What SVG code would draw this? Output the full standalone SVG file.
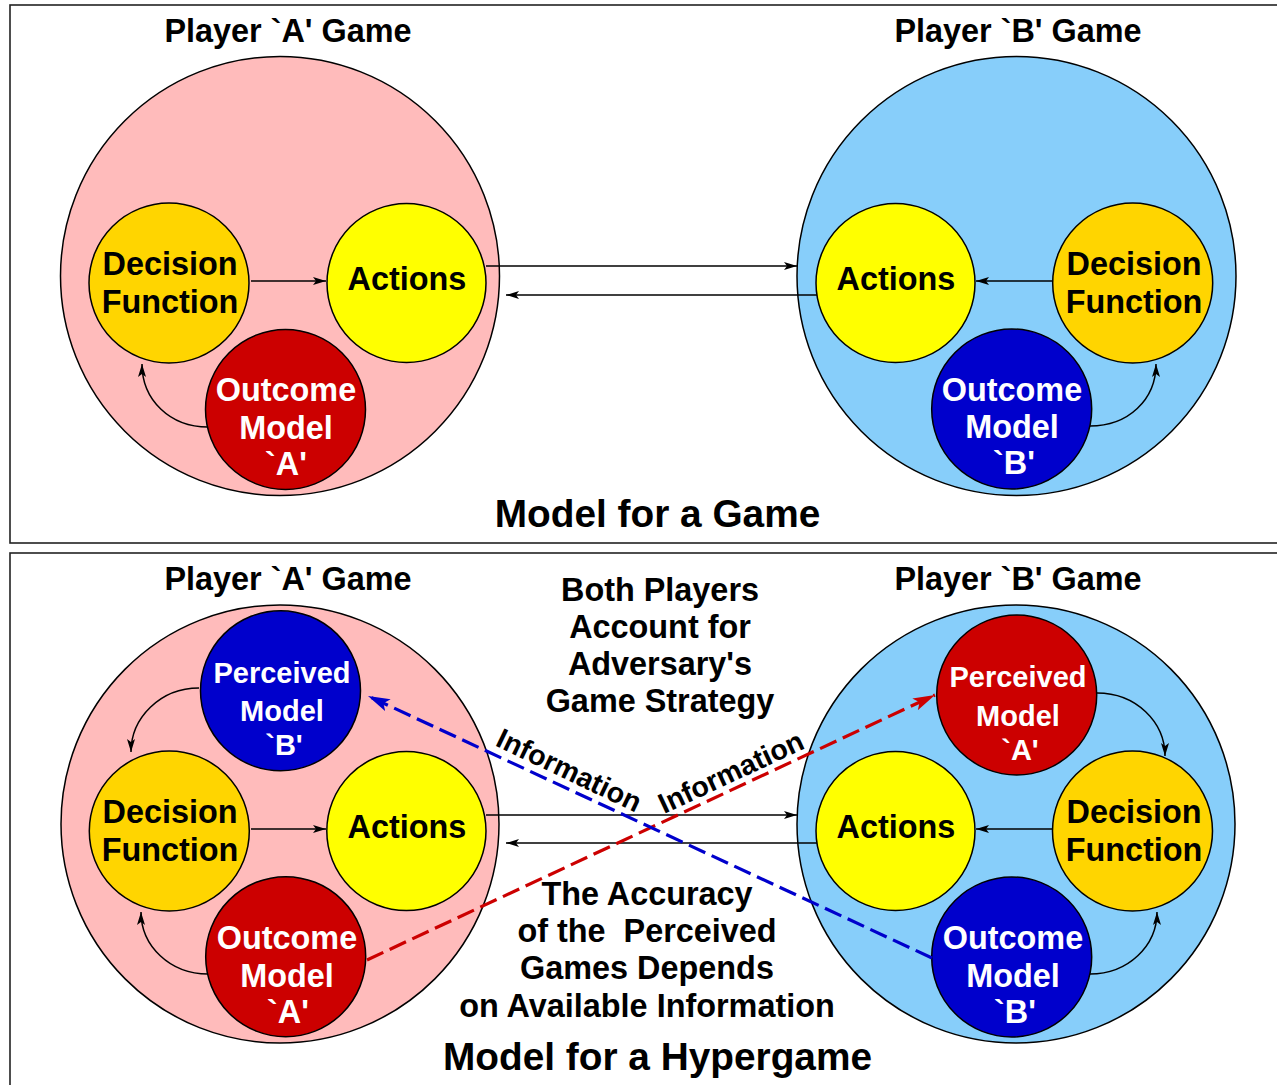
<svg xmlns="http://www.w3.org/2000/svg" width="1277" height="1085" viewBox="0 0 1277 1085">
<style>
text{font-family:"Liberation Sans",Arial,sans-serif;font-weight:bold;text-anchor:middle}
.t{font-size:32.4px;fill:#000}
.w{font-size:32.4px;fill:#fff}
.p{font-size:29px;fill:#fff}
.h{font-size:38.8px;fill:#000}
.frame{fill:#fff;stroke:#222;stroke-width:1.6}
.ring{stroke:#000;stroke-width:1.5}
.pink{fill:#FFBBBB}
.sky{fill:#87CEFA}
.gold{fill:#FFD500}
.yel{fill:#FFFF00}
.red{fill:#CC0000}
.blu{fill:#0000CC}
.c{fill:none;stroke:#000;stroke-width:1.5}
.dr{fill:none;stroke:#CC0000;stroke-width:3.2;stroke-dasharray:18 7}
.db{fill:none;stroke:#0000CC;stroke-width:3.2;stroke-dasharray:18 7}
</style>
<defs>
<marker id="ah" markerUnits="userSpaceOnUse" markerWidth="14" markerHeight="10" refX="13" refY="4" orient="auto"><path d="M0,0 L13,4 L0,8 L3,4 z" fill="#000"/></marker>
<marker id="ar" markerUnits="userSpaceOnUse" markerWidth="24" markerHeight="14" refX="22" refY="6.5" orient="auto"><path d="M0,0 L22,6.5 L0,13 L5,6.5 z" fill="#CC0000"/></marker>
<marker id="ab" markerUnits="userSpaceOnUse" markerWidth="24" markerHeight="14" refX="22" refY="6.5" orient="auto"><path d="M0,0 L22,6.5 L0,13 L5,6.5 z" fill="#0000CC"/></marker>
</defs>

<rect class="frame" x="10" y="5" width="1275" height="538"/>
<rect class="frame" x="10" y="553" width="1275" height="545"/>

<!-- Top panel: Model for a Game -->
<g id="gameA"><circle class="ring pink" cx="280" cy="276" r="219.5"/><text class="t" x="288" y="42">Player `A' Game</text></g>
<g id="gameB"><circle class="ring sky" cx="1016.5" cy="276" r="219.5"/><text class="t" x="1018" y="42">Player `B' Game</text></g>

<g id="decisionA"><circle class="ring gold" cx="169" cy="283" r="80"/><text class="t" x="170" y="275">Decision</text><text class="t" x="170" y="313">Function</text></g>
<g id="actionsA"><circle class="ring yel" cx="406.5" cy="283" r="79.5"/><text class="t" x="407" y="290">Actions</text></g>
<g id="outcomeA"><circle class="ring red" cx="285.5" cy="409.5" r="80"/><text class="w" x="286" y="401">Outcome</text><text class="w" x="286" y="439">Model</text><text class="w" x="286" y="475">`A'</text></g>

<g id="actionsB"><circle class="ring yel" cx="895.5" cy="283" r="79.5"/><text class="t" x="896" y="290">Actions</text></g>
<g id="decisionB"><circle class="ring gold" cx="1132.7" cy="283" r="80"/><text class="t" x="1134" y="275">Decision</text><text class="t" x="1134" y="313">Function</text></g>
<g id="outcomeB"><circle class="ring blu" cx="1011.7" cy="409" r="80"/><text class="w" x="1012" y="401">Outcome</text><text class="w" x="1012" y="438">Model</text><text class="w" x="1014" y="474">`B'</text></g>

<text class="h" x="657.5" y="527">Model for a Game</text>

<!-- Bottom panel: Model for a Hypergame -->
<g id="hgameA"><circle class="ring pink" cx="280" cy="824" r="219"/><text class="t" x="288" y="590">Player `A' Game</text></g>
<g id="hgameB"><circle class="ring sky" cx="1016" cy="824" r="219"/><text class="t" x="1018" y="590">Player `B' Game</text></g>

<g id="perceivedB"><circle class="ring blu" cx="280.5" cy="690.7" r="80"/><text class="p" x="282" y="683">Perceived</text><text class="p" x="282" y="721">Model</text><text class="p" x="284" y="755">`B'</text></g>
<g id="hdecisionA"><circle class="ring gold" cx="169.3" cy="831" r="80"/><text class="t" x="170" y="823">Decision</text><text class="t" x="170" y="861">Function</text></g>
<g id="hactionsA"><circle class="ring yel" cx="406.4" cy="831" r="79.6"/><text class="t" x="407" y="838">Actions</text></g>
<g id="houtcomeA"><circle class="ring red" cx="285.7" cy="956.7" r="80"/><text class="w" x="287" y="949">Outcome</text><text class="w" x="287" y="987">Model</text><text class="w" x="288" y="1023">`A'</text></g>

<g id="perceivedA"><circle class="ring red" cx="1016.7" cy="695" r="80"/><text class="p" x="1018" y="687">Perceived</text><text class="p" x="1018" y="726">Model</text><text class="p" x="1020" y="760">`A'</text></g>
<g id="hactionsB"><circle class="ring yel" cx="895.5" cy="831" r="79.5"/><text class="t" x="896" y="838">Actions</text></g>
<g id="hdecisionB"><circle class="ring gold" cx="1132.5" cy="831" r="80"/><text class="t" x="1134" y="823">Decision</text><text class="t" x="1134" y="861">Function</text></g>
<g id="houtcomeB"><circle class="ring blu" cx="1011.7" cy="957" r="80"/><text class="w" x="1013" y="949">Outcome</text><text class="w" x="1013" y="987">Model</text><text class="w" x="1015" y="1023">`B'</text></g>

<g id="connectors">
<path class="c" d="M251,281 L326,281" marker-end="url(#ah)"/>
<path class="c" d="M1052,281 L976,281" marker-end="url(#ah)"/>
<path class="c" d="M486,266 L797,266" marker-end="url(#ah)"/>
<path class="c" d="M817,295 L506,295" marker-end="url(#ah)"/>
<path class="c" d="M208,427 C170,427 142,400 142,364" marker-end="url(#ah)"/>
<path class="c" d="M1090,426 C1128,426 1156,400 1156,364" marker-end="url(#ah)"/>

<path class="c" d="M251,829 L326,829" marker-end="url(#ah)"/>
<path class="c" d="M1052,829 L976,829" marker-end="url(#ah)"/>
<path class="c" d="M486,815 L797,815" marker-end="url(#ah)"/>
<path class="c" d="M817,843 L506,843" marker-end="url(#ah)"/>
<path class="c" d="M208,974 C170,974 141,946 141,912" marker-end="url(#ah)"/>
<path class="c" d="M1090,974 C1128,974 1157,946 1157,912" marker-end="url(#ah)"/>
<path class="c" d="M199,688 C160,688 131,718 131,752" marker-end="url(#ah)"/>
<path class="c" d="M1097,693 C1136,693 1165,722 1165,756" marker-end="url(#ah)"/>

<path class="dr" d="M367,960 L935,695" marker-end="url(#ar)"/>
<path class="db" d="M932,958 L368,696" marker-end="url(#ab)"/>
</g>

<text class="t" style="font-size:28.5px" transform="translate(565,779) rotate(25.5)">Information</text>
<text class="t" style="font-size:28.5px" transform="translate(735,781) rotate(-25)">Information</text>

<text class="t" x="660" y="601">Both Players</text>
<text class="t" x="660" y="638">Account for</text>
<text class="t" x="660" y="675">Adversary's</text>
<text class="t" x="660" y="712">Game Strategy</text>

<text class="t" x="647" y="905">The Accuracy</text>
<text class="t" x="647" y="942" xml:space="preserve">of the  Perceived</text>
<text class="t" x="647" y="979">Games Depends</text>
<text class="t" x="647" y="1017">on Available Information</text>

<text class="h" x="657.5" y="1070">Model for a Hypergame</text>
</svg>
